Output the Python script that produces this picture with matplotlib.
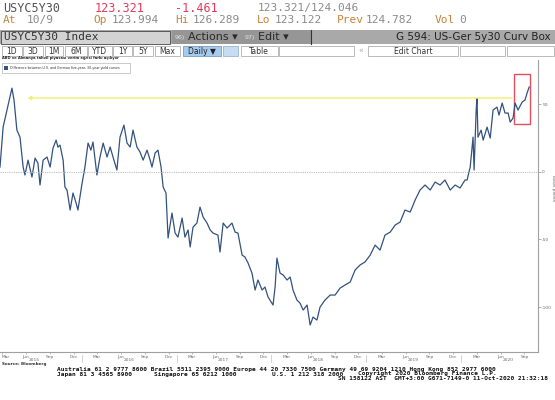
import matplotlib
matplotlib.use('Agg')
import pandas as pd
import matplotlib.pyplot as plt
from matplotlib.patches import Rectangle

W, H = 555, 400

# US-Ger 5y30 curve difference, basis points
dates = [
    '2015-02-21', '2015-03-05', '2015-03-20', '2015-04-08', '2015-04-16', '2015-04-27', '2015-05-09',
    '2015-05-21', '2015-05-28', '2015-06-09', '2015-06-24', '2015-07-06', '2015-07-17', '2015-07-25',
    '2015-08-06', '2015-08-21', '2015-09-02', '2015-09-13', '2015-09-25', '2015-10-02', '2015-10-10',
    '2015-10-22', '2015-10-29', '2015-11-06', '2015-11-18', '2015-11-29', '2015-12-11', '2015-12-18',
    '2016-01-03', '2016-01-14', '2016-01-26', '2016-02-06', '2016-02-14', '2016-02-29', '2016-03-12',
    '2016-03-24', '2016-04-08', '2016-04-20', '2016-05-01', '2016-05-16', '2016-05-28', '2016-06-12',
    '2016-06-24', '2016-07-06', '2016-07-17', '2016-08-01', '2016-08-13', '2016-08-25', '2016-09-09',
    '2016-09-21', '2016-09-28', '2016-10-10', '2016-10-21', '2016-11-02', '2016-11-10', '2016-11-21',
    '2016-11-29', '2016-12-14', '2016-12-26',
    '2017-01-06', '2017-01-22', '2017-02-02', '2017-02-14', '2017-02-22', '2017-03-05', '2017-03-20',
    '2017-04-01', '2017-04-13', '2017-04-28', '2017-05-10', '2017-05-21', '2017-06-09', '2017-06-17',
    '2017-06-29', '2017-07-14', '2017-08-02', '2017-08-14', '2017-08-25', '2017-09-10', '2017-09-21',
    '2017-10-03', '2017-10-18', '2017-10-30', '2017-11-10', '2017-11-26', '2017-12-07', '2017-12-19',
    '2018-01-07', '2018-01-15', '2018-01-22', '2018-02-03', '2018-02-15', '2018-03-02', '2018-03-14',
    '2018-03-25', '2018-04-09', '2018-04-21', '2018-05-03', '2018-05-18', '2018-05-30', '2018-06-10',
    '2018-06-25', '2018-07-07', '2018-07-26', '2018-08-15', '2018-09-03', '2018-09-22', '2018-10-11',
    '2018-10-31', '2018-11-19', '2018-12-08', '2018-12-27',
    '2019-01-16', '2019-02-04', '2019-02-23', '2019-03-14', '2019-04-03', '2019-04-22', '2019-05-11',
    '2019-05-30', '2019-06-19', '2019-07-08', '2019-07-27', '2019-08-15', '2019-09-04', '2019-09-23',
    '2019-10-12', '2019-10-31', '2019-11-20', '2019-12-09', '2019-12-28',
    '2020-01-16', '2020-01-24', '2020-02-05', '2020-02-16', '2020-02-20', '2020-02-28', '2020-03-02',
    '2020-03-06', '2020-03-18', '2020-03-26', '2020-04-10', '2020-04-22', '2020-05-03', '2020-05-18',
    '2020-05-26', '2020-06-07', '2020-06-18', '2020-06-30', '2020-07-08', '2020-07-19', '2020-07-27',
    '2020-08-07', '2020-08-23', '2020-09-03', '2020-09-11', '2020-09-19',
]
values = [
    3.5, 33, 45.6, 61.8, 53, 30.8, 25.6, 3.5, -2.4, 8.6, -3.9, 10.1, 6.4, -9.8,
    8.6, 10.9, 3.5, 17.5, 23.4, 18.2, 19.7, 8.6, -11.3, -13.5, -28.3, -15.7, -23.1, -28.3,
    -8.4, 3.5, 21.2, 16, 22, -2.4, 10.9, 21.2, 10.9, 18.3, 10.9, 1.3, 25.6, 34.5,
    21.2, 18.3, 30.8, 18.3, 14.6, 8.6, 16, 8.6, 3.5, 13.8, 16, 3.5, -11.3, -15.7,
    -49, -30.5, -45.3,
    -48.3, -34.2, -48.3, -43, -55.6, -40.9, -37.9, -26.1, -33.5, -37.9, -43, -45.3, -46.8, -59.3,
    -37.9, -41.6, -37.9, -44.6, -45.3, -61.6, -63, -67.5, -74.9, -87.4, -80, -87.4, -85.2, -92.6,
    -98.5, -85.2, -63.8, -74.9, -76.3, -80, -77.8, -87.4, -94.8, -97.1, -102.2, -98.5, -113.3, -107.4,
    -109.6, -100, -94.8, -91.1, -91.1, -86, -83.7, -81.5, -72.6, -68.9, -66.7,
    -61.6, -54.2, -57.9, -46.8, -44.6, -39.4, -37.2, -28.3, -29.8, -20.9, -13.5, -9.8, -13.5, -7.6,
    -9.8, -6.1, -13.5, -9.8, -12,
    -6.1, -6.1, 3.5, 25.6, 1.3, 45.5, 54.4, 25.6, 30.8, 23.4, 33, 24.9, 45.6, 47.8,
    41.9, 50.8, 43.4, 43.4, 36.7, 39.7, 50.8, 45.6, 51.5, 53, 58.2, 62.6,
]

y_ticks = [50, 0, -50, -100]
month_names = {3: 'Mar', 6: 'Jun', 9: 'Sep', 12: 'Dec'}
years = [2015, 2016, 2017, 2018, 2019, 2020]

# annotations drawn by the author
march_high = 54.5
arrow_from, arrow_to = '2020-07-25', '2015-05-27'
box_start, box_end = '2020-07-23', '2020-09-22'
box_low, box_high = 35.3, 72.2

LINE = '#33527e'
GREY = '#6a6a6a'


def fx(x):
    return x / W


def fy(y):
    return 1 - y / H


def box(x0, y0, x1, y1, fc, ec='none', lw=0.6):
    fig.patches.append(Rectangle((fx(x0), fy(y1)), (x1 - x0) / W, (y1 - y0) / H,
                                 transform=fig.transFigure, fc=fc, ec=ec, lw=lw))


def txt(x, y, s, **kw):
    kw.setdefault('va', 'center')
    fig.text(fx(x), fy(y), s, **kw)


fig = plt.figure(figsize=(W / 100, H / 100), dpi=100)
fig.patch.set_facecolor('white')

# ---- header rows ----
mono = 'DejaVu Sans Mono'
txt(3, 8, 'USYC5Y30', family=mono, fontsize=8.5, color='#555555')
txt(95, 8, '123.321', family=mono, fontsize=8.5, color='#e8385a')
txt(175, 8, '-1.461', family=mono, fontsize=8.5, color='#e8385a')
txt(258, 8, '123.321/124.046', family=mono, fontsize=8, color='#8a8a8a')

lab = '#c8843c'
val = '#8a8a8a'
for x, s, c in [(3, 'At', lab), (27, '10/9', val), (93, 'Op', lab), (112, '123.994', val),
                (175, 'Hi', lab), (193, '126.289', val), (257, 'Lo', lab), (275, '123.122', val),
                (337, 'Prev', lab), (366, '124.782', val), (435, 'Vol', lab), (459, '0', val)]:
    txt(x, 20, s, family=mono, fontsize=8, color=c)

# toolbar bar
box(0, 30, W, 44, '#a9a9a9')
box(172, 30, 311, 44, '#969696')
box(1, 30.5, 170, 43.5, '#d3d3d3', '#4a4a4a')
txt(4, 37, 'USYC5Y30 Index', family=mono, fontsize=8, color='#333333')
txt(175, 37, '96)', fontsize=4.5, color='#e0e0e0')
txt(188, 37, 'Actions \u25be', fontsize=8, color='#2a2a2a')
txt(245, 37, '97)', fontsize=4.5, color='#e0e0e0')
txt(258, 37, 'Edit \u25be', fontsize=8, color='#2a2a2a')
fig.lines.append(plt.Line2D([fx(311), fx(311)], [fy(30), fy(44)], transform=fig.transFigure,
                            color='#333333', lw=0.8))
txt(551, 37, 'G 594: US-Ger 5y30 Curv Box', fontsize=7.5, color='#222222', ha='right')

# buttons row
buttons = [('1D', 2, 22), ('3D', 23, 43), ('1M', 45, 63), ('6M', 65, 87), ('YTD', 88, 112),
           ('1Y', 113, 132), ('5Y', 133, 153), ('Max', 155, 180)]
for s, x0, x1 in buttons:
    box(x0, 46, x1, 56, 'white', '#b0b0b0')
    txt((x0 + x1) / 2, 51, s, fontsize=5.5, color='#333333', ha='center')
box(183, 46, 221, 56, '#a6cbef', '#7a9cc0')
txt(202, 51, 'Daily \u25bc', fontsize=5.5, color='#222222', ha='center')
box(223, 46, 238, 56, '#c6dcf2', '#9ab4d0')
box(241, 46, 278, 56, 'white', '#b0b0b0')
txt(259, 51, 'Table', fontsize=5.5, color='#333333', ha='center')
box(279, 46, 354, 56, 'white', '#b0b0b0')
txt(358, 51, '\u00ab', fontsize=5.5, color='#aaaaaa')
box(368, 46, 458, 56, 'white', '#b0b0b0')
txt(413, 51, 'Edit Chart', fontsize=5.5, color='#333333', ha='center')
box(460, 46, 505, 56, 'white', '#b0b0b0')
box(507, 46, 554, 56, 'white', '#b0b0b0')

txt(2, 58.5, 'ABD ve Almanya tahvil piyasas\u0131 verim e\u011frisi fark\u0131 a\u00e7\u0131l\u0131yor',
    fontsize=2.6, weight='bold', color='#222222')

# ---- chart ----
ax = fig.add_axes([0, fy(352), 538 / W, (352 - 60) / H])
d = pd.to_datetime(dates)
ax.plot(d, values, color=LINE, lw=0.9)

ax.set_xlim(pd.Timestamp('2015-02-21'), pd.Timestamp('2020-10-23'))
ax.set_ylim(-133.2, 82.6)

ax.axhline(0, color='#bdbdbd', lw=0.8, ls=(0, (1, 1)))
ax.annotate('', xy=(pd.Timestamp(arrow_to), march_high), xytext=(pd.Timestamp(arrow_from), march_high),
            arrowprops=dict(arrowstyle='-|>', color='#f2ef6a', lw=1.0, mutation_scale=5))
ax.add_patch(Rectangle((pd.Timestamp(box_start), box_low),
                       pd.Timestamp(box_end) - pd.Timestamp(box_start), box_high - box_low,
                       fill=False, ec='#e2505e', lw=1.0))

for s in ['left', 'top']:
    ax.spines[s].set_visible(False)
for s in ['right', 'bottom']:
    ax.spines[s].set_color('#a0a0a0')
    ax.spines[s].set_linewidth(0.8)

ax.yaxis.tick_right()
ax.set_yticks(y_ticks)
ax.set_yticklabels([str(v) for v in y_ticks])
ax.tick_params(axis='y', labelsize=3.2, labelcolor=GREY, color='#a0a0a0', length=2, width=0.6, pad=1)
ax.text(1.027, 0.56, 'Basis points', transform=ax.transAxes, rotation=270, fontsize=3.2,
        color=GREY, ha='center', va='center')

ticks = [pd.Timestamp(y, m, 1) for y in years for m in month_names
         if pd.Timestamp(y, m, 1) <= pd.Timestamp('2020-09-30')]
ax.set_xticks(ticks)
ax.set_xticklabels([month_names[t.month] for t in ticks])
ax.tick_params(axis='x', labelsize=3.2, labelcolor=GREY, color='#a0a0a0', length=1.5, width=0.5, pad=1)
ax.get_xticklabels()[0].set_horizontalalignment('left')
for y in years:
    ax.text(pd.Timestamp(y, 7, 1), -0.02, str(y), transform=ax.get_xaxis_transform(),
            fontsize=3.2, color=GREY, ha='center', va='top')
    if y > 2015:
        ax.plot([pd.Timestamp(y, 1, 1)] * 2, [-0.01, -0.035], transform=ax.get_xaxis_transform(),
                color='#c0c0c0', lw=0.5, clip_on=False)

# legend box
box(2, 63, 130, 73, 'white', '#b8b8b8', lw=0.5)
box(4, 66, 8, 70, LINE)
txt(10, 68, 'Difference between U.S. and German five-year, 30-year yield curves',
    fontsize=2.3, color='#333333')

# ---- footer ----
txt(2, 364, 'Source: Bloomberg', fontsize=3, weight='bold', color='#333333')
foot = dict(family=mono, fontsize=4.4, color='#111111', weight='bold')
txt(57, 369, 'Australia 61 2 9777 8600 Brazil 5511 2395 9000 Europe 44 20 7330 7500 '
             'Germany 49 69 9204 1210 Hong Kong 852 2977 6000', **foot)
txt(57, 374.5, 'Japan 81 3 4565 8900', **foot)
txt(154, 374.5, 'Singapore 65 6212 1000', **foot)
txt(272, 374.5, 'U.S. 1 212 318 2000', **foot)
txt(358, 373.5, 'Copyright 2020 Bloomberg Finance L.P.', **foot)
txt(338, 379, 'SN 158122 AST  GMT+3:00 G671-7149-0 11-Oct-2020 21:32:18', **foot)

fig.savefig('out.png', dpi=100)
